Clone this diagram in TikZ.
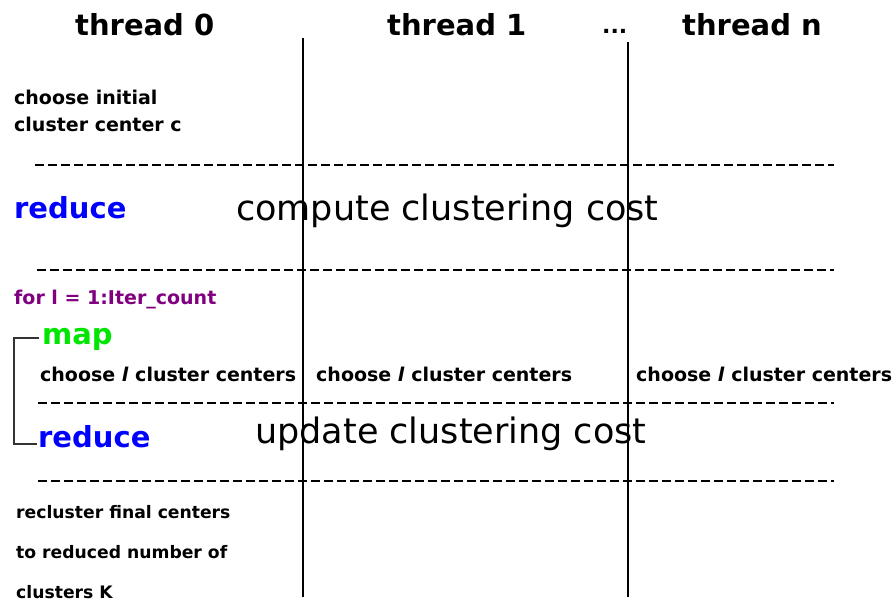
\documentclass[tikz,border=0pt]{standalone}
\usepackage{fontspec}
\setmainfont{DejaVu Sans}
\begin{document}
\begin{tikzpicture}[x=1pt,y=-1pt,
  small/.style={font=\fontsize{19}{22}\selectfont\bfseries, anchor=west, inner sep=0pt},
  smaller/.style={font=\fontsize{17.2}{20}\selectfont\bfseries, anchor=west, inner sep=0pt},
  bigb/.style={font=\fontsize{29}{32}\selectfont\bfseries, anchor=west, inner sep=0pt},
  bigr/.style={font=\fontsize{35}{40}\selectfont, anchor=west, inner sep=0pt},
  vline/.style={line width=2pt},
  dline/.style={line width=2.2pt, dash pattern=on 9pt off 4pt},
  brack/.style={line width=1.6pt, draw=black!80}]
\useasboundingbox (0,0) rectangle (896,603);
% headers
\node[bigb] (t0) at (75,25) {thread 0};
\node[bigb] (t1) at (387,25) {thread 1};
\node[small, font=\fontsize{22}{24}\selectfont\bfseries] (dots) at (602,31) {...};
\node[bigb] (tn) at (682,25) {thread n};
% vertical lines
\coordinate (v1a) at (303,38);
\coordinate (v1b) at (303,597);
\coordinate (v2a) at (628,42);
\coordinate (v2b) at (628,597);
\draw[vline] (v1a) -- (v1b);
\draw[vline] (v2a) -- (v2b);
% dashed lines
\coordinate (d1a) at (35,165);  \coordinate (d1b) at (834,165);
\coordinate (d2a) at (37,270);  \coordinate (d2b) at (834,270);
\coordinate (d3a) at (38,403);  \coordinate (d3b) at (834,403);
\coordinate (d4a) at (38,481);  \coordinate (d4b) at (834,481);
\draw[dline] (d1a) -- (d1b);
\draw[dline] (d2a) -- (d2b);
\draw[dline] (d3a) -- (d3b);
\draw[dline] (d4a) -- (d4b);
% texts
\node[small] (ci1) at (14,97) {choose initial};
\node[small] (ci2) at (14,124) {cluster center c};
\node[bigb, text={rgb,255:red,0;green,0;blue,255}] (red1) at (14,208) {reduce};
\node[bigr] (ccc) at (236,211) {compute clustering cost};
\node[small, text={rgb,255:red,128;green,0;blue,128}] (for) at (14,300) {for l = 1:Iter\_count};
\node[bigb, text={rgb,255:red,0;green,230;blue,0}] (map) at (42,339) {map};
\node[small] (cc0) at (40,374) {choose \textit{l} cluster centers};
\node[small] (cc1) at (316,374) {choose \textit{l} cluster centers};
\node[small] (cc2) at (636,374) {choose \textit{l} cluster centers};
\node[bigb, text={rgb,255:red,0;green,0;blue,255}] (red2) at (38,437) {reduce};
\node[bigr] (ucc) at (255,434) {update clustering cost};
\node[smaller] (rc1) at (16,512) {recluster final centers};
\node[smaller] (rc2) at (16,552) {to reduced number of};
\node[smaller] (rc3) at (16,592) {clusters K};
% bracket
\coordinate (bk0) at (39,338);
\coordinate (bk1) at (14,338);
\coordinate (bk2) at (14,444);
\coordinate (bk3) at (37,444);
\draw[brack] (bk0) -- (bk1) -- (bk2) -- (bk3);
\end{tikzpicture}
\end{document}
